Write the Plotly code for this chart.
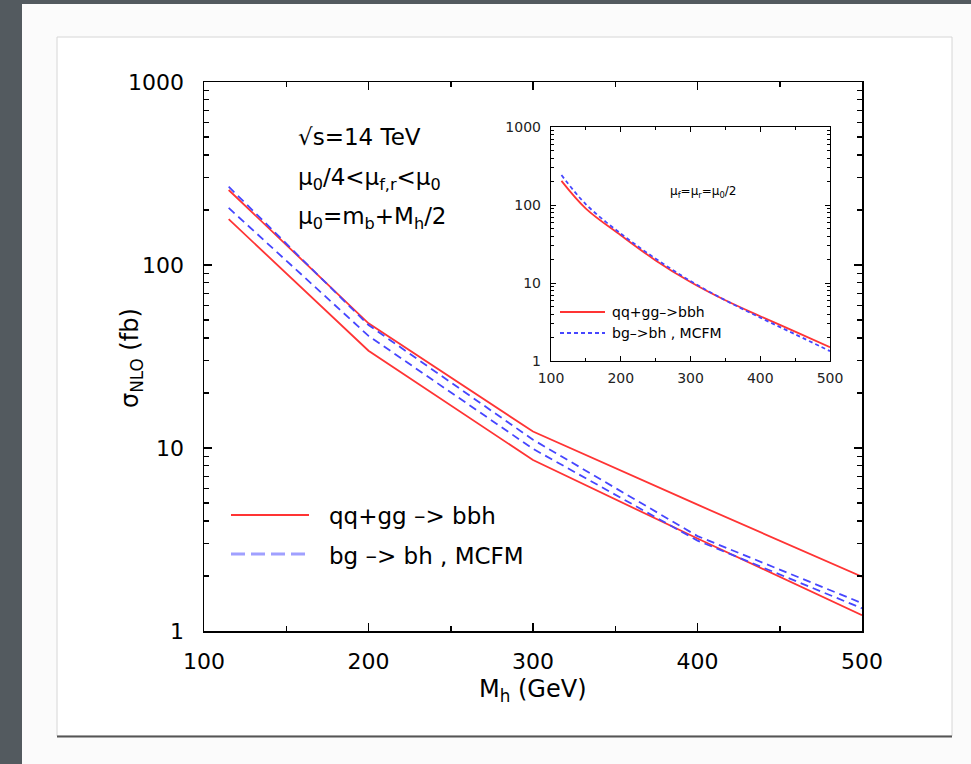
import plotly.graph_objects as go

# ---------------- data ----------------
mass_main = [115, 200, 300, 400, 500]
red_upper = [257, 48, 12.3, 4.9, 1.98]
red_lower = [178, 34, 8.6, 3.2, 1.22]
blue_upper = [268, 47, 11.1, 3.3, 1.42]
blue_lower = [205, 41, 9.9, 3.12, 1.33]

mass_inset = [115, 150, 200, 250, 300, 350, 400, 450, 500]
inset_red = [204, 90, 41, 19.5, 10.3, 6.0, 3.75, 2.38, 1.5]
inset_blue = [242, 102, 43, 20.5, 10.6, 6.0, 3.6, 2.2, 1.34]

x_ticks = [100, 200, 300, 400, 500]
y_ticks = [1, 10, 100, 1000]
y_ticktext = ["1", "10", "100", "1000"]
y_minor = [m * d for d in (1, 10, 100) for m in range(2, 10)]

label_red = "qq+gg –> bbh"
label_blue = "bg –> bh , MCFM"
label_red_inset = "qq+gg–>bbh"
label_blue_inset = "bg–>bh , MCFM"

W, H = 971, 764
FONT = "DejaVu Sans"
RED = "#ff3434"
BLUE = "#4646ff"
BG = "#535a5f"


def px(x):
    return x / W


def py(y):
    return 1 - y / H


fig = go.Figure()

# main curves
for ys, col, dash in [(red_upper, RED, "solid"), (red_lower, RED, "solid"),
                      (blue_upper, BLUE, "8px,5px"), (blue_lower, BLUE, "8px,5px")]:
    fig.add_trace(go.Scatter(x=mass_main, y=ys, mode="lines",
                             line=dict(color=col, width=1.8, dash=dash),
                             xaxis="x", yaxis="y", showlegend=False, hoverinfo="skip"))

# inset curves
fig.add_trace(go.Scatter(x=mass_inset, y=inset_red, mode="lines", line_shape="spline",
                         line=dict(color=RED, width=1.8), xaxis="x2", yaxis="y2",
                         showlegend=False, hoverinfo="skip"))
fig.add_trace(go.Scatter(x=mass_inset, y=inset_blue, mode="lines", line_shape="spline",
                         line=dict(color=BLUE, width=1.8, dash="4px,3px"), xaxis="x2", yaxis="y2",
                         showlegend=False, hoverinfo="skip"))

axis_common = dict(showline=True, linecolor="black", linewidth=1.5, mirror="allticks",
                   ticks="inside", showgrid=False, zeroline=False, tickcolor="black",
                   automargin=False)

shapes = [
    # light slide area
    dict(type="rect", xref="paper", yref="paper", x0=px(22), x1=1, y0=0, y1=py(4),
         fillcolor="#fbfbfb", line=dict(width=0), layer="below"),
    # white figure panel
    dict(type="rect", xref="paper", yref="paper", x0=px(57), x1=px(952), y0=py(736), y1=py(37),
         fillcolor="white", line=dict(color="#d6d6d6", width=1), layer="below"),
    # panel bottom shadow
    dict(type="line", xref="paper", yref="paper", x0=px(57), x1=px(952), y0=py(736.5), y1=py(736.5),
         line=dict(color="#555555", width=2), layer="below"),
    # main legend samples
    dict(type="line", xref="paper", yref="paper", x0=px(231), x1=px(309), y0=py(515), y1=py(515),
         line=dict(color=RED, width=1.8)),
    dict(type="line", xref="paper", yref="paper", x0=px(231), x1=px(309), y0=py(554), y1=py(554),
         line=dict(color="#a0a0ff", width=3, dash="14px,6px")),
    # inset legend samples
    dict(type="line", xref="paper", yref="paper", x0=px(560), x1=px(605), y0=py(312), y1=py(312),
         line=dict(color=RED, width=1.8)),
    dict(type="line", xref="paper", yref="paper", x0=px(560), x1=px(605), y0=py(333), y1=py(333),
         line=dict(color=BLUE, width=1.8, dash="4px,3px")),
    # white background behind the inset
    dict(type="rect", xref="paper", yref="paper", x0=px(551), x1=px(830), y0=py(361), y1=py(127),
         fillcolor="white", line=dict(width=0), layer="below"),
]

annotations = [
    dict(text="√s=14 TeV", x=px(296), y=py(137), xanchor="left", yanchor="middle",
         font=dict(size=23)),
    dict(text="μ<sub>0</sub>/4&lt;μ<sub>f,r</sub>&lt;μ<sub>0</sub>", x=px(296), y=py(179),
         xanchor="left", yanchor="middle", font=dict(size=23)),
    dict(text="μ<sub>0</sub>=m<sub>b</sub>+M<sub>h</sub>/2", x=px(296), y=py(218),
         xanchor="left", yanchor="middle", font=dict(size=23)),
    dict(text=label_red, x=px(327), y=py(516), xanchor="left", yanchor="middle", font=dict(size=23)),
    dict(text=label_blue, x=px(327), y=py(556), xanchor="left", yanchor="middle", font=dict(size=23)),
    dict(text="M<sub>h</sub> (GeV)", x=px(533), y=py(690), xanchor="center", yanchor="middle",
         font=dict(size=24)),
    dict(text="σ<sub>NLO</sub> (fb)", x=px(131), y=py(358), xanchor="center", yanchor="middle",
         textangle=-90, font=dict(size=24)),
    # inset texts
    dict(text="μ<sub>f</sub>=μ<sub>r</sub>=μ<sub>0</sub>/2", x=px(668), y=py(192), xanchor="left",
         yanchor="middle", font=dict(size=12)),
    dict(text=label_red_inset, x=px(610), y=py(312), xanchor="left", yanchor="middle",
         font=dict(size=14)),
    dict(text=label_blue_inset, x=px(610), y=py(333), xanchor="left", yanchor="middle",
         font=dict(size=14)),
]
for a in annotations:
    a.update(xref="paper", yref="paper", showarrow=False)

fig.update_layout(
    width=W, height=H, autosize=False,
    margin=dict(l=0, r=0, t=0, b=0, pad=0, autoexpand=False),
    paper_bgcolor=BG,
    plot_bgcolor="rgba(0,0,0,0)",
    font=dict(family=FONT, color="black", size=22),
    showlegend=False,
    xaxis=dict(axis_common, domain=[px(204), px(862)], range=[100, 500], tickvals=x_ticks,
               ticklen=8, tickwidth=1.5, anchor="y", ticklabelstandoff=10,
               tickfont=dict(size=22),
               minor=dict(dtick=50, tick0=100, ticks="inside", ticklen=5, tickcolor="black",
                          showgrid=False)),
    yaxis=dict(axis_common, type="log", domain=[py(631), py(82)], range=[0, 3],
               tickvals=y_ticks, ticktext=y_ticktext, ticklen=8, tickwidth=1.5, anchor="x",
               ticklabelstandoff=14, tickfont=dict(size=22),
               minor=dict(tickvals=y_minor, ticks="inside", ticklen=5, tickcolor="black",
                          showgrid=False)),
    xaxis2=dict(axis_common, domain=[px(551), px(830)], range=[100, 500], tickvals=x_ticks,
                ticklen=5, tickwidth=1, linewidth=1.2, anchor="y2", ticklabelstandoff=4,
                tickfont=dict(size=14, color="#222"),
                minor=dict(dtick=50, tick0=100, ticks="inside", ticklen=3, tickcolor="black",
                           showgrid=False)),
    yaxis2=dict(axis_common, type="log", domain=[py(361), py(127)], range=[0, 3],
                tickvals=y_ticks, ticktext=y_ticktext, ticklen=5, tickwidth=1, linewidth=1.2,
                anchor="x2", ticklabelstandoff=6, tickfont=dict(size=14, color="#222"),
                minor=dict(tickvals=y_minor, ticks="inside", ticklen=3, tickcolor="black",
                           showgrid=False)),
    shapes=shapes,
    annotations=annotations,
)

fig.write_html(
    "out.html",
    config={"displayModeBar": False, "staticPlot": True},
    post_script="document.body.style.margin='0';document.body.style.padding='0';"
                "document.body.style.background='" + BG + "';"
                "document.body.style.overflow='hidden';",
)
